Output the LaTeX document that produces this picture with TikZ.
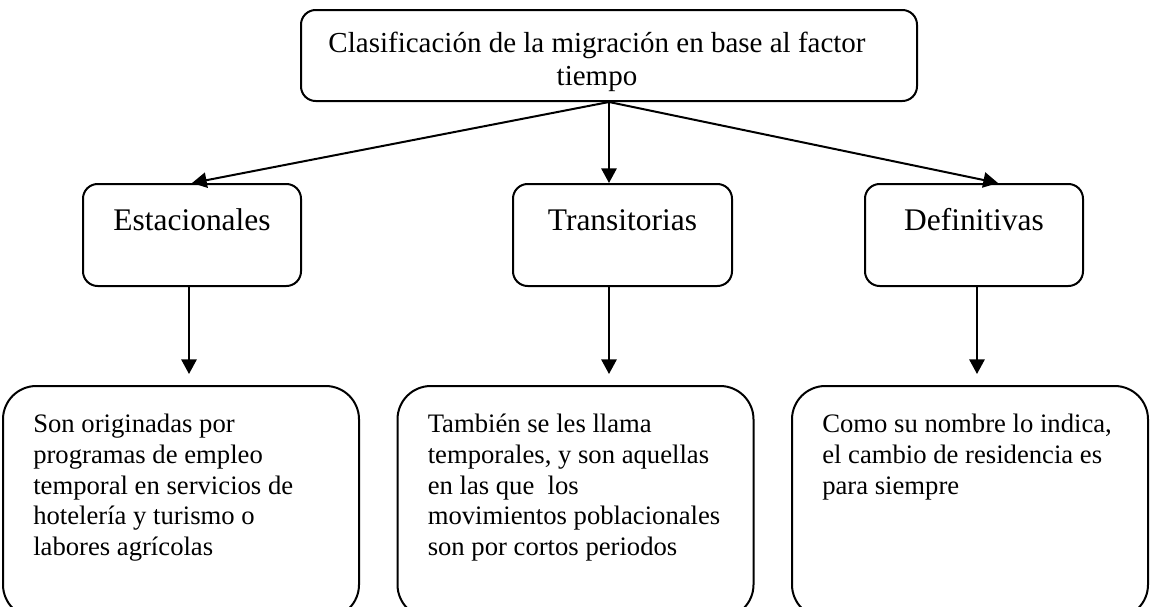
\documentclass[tikz,border=0pt]{standalone}
\usepackage{fontspec}
\setmainfont{Liberation Serif}
\usetikzlibrary{arrows.meta}
\begin{document}
\begin{tikzpicture}[x=0.75pt,y=-0.75pt]
\tikzset{
  box/.style={draw, line width=1.5pt, rounded corners=11pt, inner sep=0pt},
  bigbox/.style={draw, line width=1.5pt, rounded corners=25pt, inner sep=0pt},
  arr/.style={line width=1.5pt, -{Triangle[length=11pt,width=11.5pt]}},
  toptext/.style={font=\fontsize{21.75}{24.75}\selectfont, align=center, inner sep=0pt},
  midtext/.style={font=\fontsize{23.6}{27}\selectfont, inner sep=0pt},
  bottext/.style={font=\fontsize{20}{23}\selectfont, align=left, inner sep=0pt, anchor=north west},
}
\useasboundingbox (0,0) rectangle (1150,607);
\clip (0,0) rectangle (1150,607);
% top box
\node[box, minimum width=616*0.75pt, minimum height=91*0.75pt] (top) at (609,55.5) {};
\node[toptext, anchor=north] (toplbl) at (597,32) {Clasificación de la migración en base al factor\\tiempo};
% middle boxes
\node[box, minimum width=218*0.75pt, minimum height=102*0.75pt] (est) at (192,235) {};
\node[box, minimum width=219*0.75pt, minimum height=102*0.75pt] (tra) at (622.5,235) {};
\node[box, minimum width=218*0.75pt, minimum height=102*0.75pt] (def) at (974,235) {};
\node[midtext, anchor=base] (estlbl) at (192,230) {Estacionales};
\node[midtext, anchor=base] (tralbl) at (622.5,230) {Transitorias};
\node[midtext, anchor=base] (deflbl) at (974,230) {Definitivas};
% bottom boxes
\node[bigbox, minimum width=356*0.75pt, minimum height=232*0.75pt] (b1) at (181,502) {};
\node[bigbox, minimum width=356*0.75pt, minimum height=232*0.75pt] (b2) at (575.5,502) {};
\node[bigbox, minimum width=356*0.75pt, minimum height=232*0.75pt] (b3) at (970,502) {};
\node[bottext] (b1lbl) at (33,414) {Son originadas por\\programas de empleo\\temporal en servicios de\\hotelería y turismo o\\labores agrícolas};
\node[bottext] (b2lbl) at (427.5,414) {También se les llama\\temporales, y son aquellas\\en las que \ los\\movimientos poblacionales\\son por cortos periodos};
\node[bottext] (b3lbl) at (822,414) {Como su nombre lo indica,\\el cambio de residencia es\\para siempre};
% connectors
\draw[arr] (top.south) -- (est.north);
\draw[arr] (top.south) -- (top.south |- tra.north);
\draw[arr] (top.south) -- ([xshift=18pt]def.north);
\coordinate (e1) at ([xshift=-2.25pt]est.south);
\coordinate (t1) at (top.south |- tra.south);
\coordinate (d1) at ([xshift=2.25pt]def.south);
\draw[arr, shorten >=8.25pt] (e1) -- (e1 |- b1.north);
\draw[arr, shorten >=8.25pt] (t1) -- (t1 |- b2.north);
\draw[arr, shorten >=8.25pt] (d1) -- (d1 |- b3.north);
\end{tikzpicture}
\end{document}
